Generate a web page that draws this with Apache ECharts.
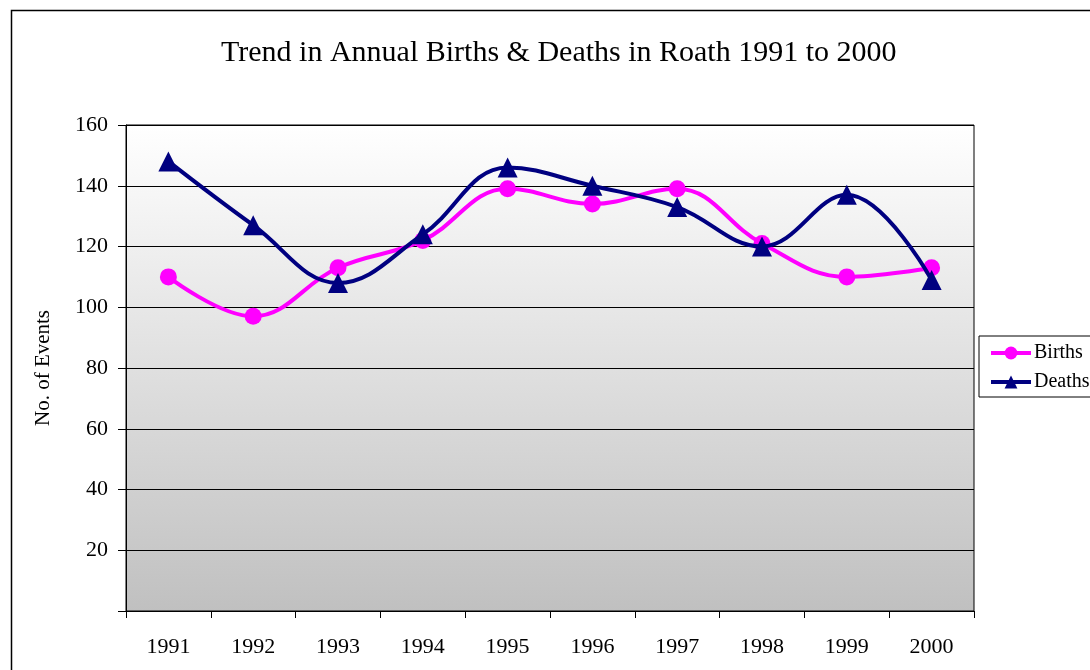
<!DOCTYPE html>
<html><head><meta charset="utf-8">
<script src="https://cdn.jsdelivr.net/npm/echarts@6/dist/echarts.min.js"></script>
<style>html,body{margin:0;padding:0;background:#fff}#c{width:1090px;height:670px}</style>
</head><body><div id="c"></div>
<script>
const years = ['1991','1992','1993','1994','1995','1996','1997','1998','1999','2000'];
const births = [110, 97, 113, 122, 139, 134, 139, 121, 110, 113];
const deaths = [148, 127, 108, 124, 146, 140, 133, 120, 137, 109];
const titleText = 'Trend in Annual Births & Deaths in Roath 1991 to 2000';
const yAxisName = 'No. of Events';

const font = 'Liberation Serif, Times New Roman, serif';
const chart = echarts.init(document.getElementById('c'));
chart.setOption({
  animation: false,
  backgroundColor: '#fff',
  textStyle: { fontFamily: font, color: '#000' },
  title: {
    text: titleText, left: 216, top: 33,
    textStyle: { fontFamily: font, fontSize: 30, fontWeight: 'normal', color: '#000' }
  },
  graphic: [{
    type: 'rect', z: 100, silent: true,
    shape: { x: 11.5, y: 10.5, width: 1200, height: 1000 },
    style: { fill: 'none', stroke: '#000', lineWidth: 1.5 }
  }],
  grid: {
    left: 126, top: 125, width: 848, height: 486,
    show: true, borderColor: '#000', borderWidth: 1,
    backgroundColor: new echarts.graphic.LinearGradient(0, 0, 0, 1, [
      { offset: 0, color: '#ffffff' }, { offset: 1, color: '#c0c0c0' }
    ])
  },
  legend: {
    orient: 'vertical', left: 979, top: 336,
    padding: [7, 60, 5, 10], itemGap: 9, itemWidth: 40, itemHeight: 16,
    borderColor: '#000', borderWidth: 1, backgroundColor: '#fff',
    lineStyle: { width: 4 },
    textStyle: { fontFamily: font, fontSize: 20, color: '#000', padding: [0, 0, 0, -2] },
    data: ['Births', 'Deaths']
  },
  xAxis: {
    type: 'category', data: years, boundaryGap: true,
    axisLine: { lineStyle: { color: '#000', width: 1 } },
    axisTick: { show: true, length: 7, lineStyle: { color: '#000' } },
    axisLabel: { fontFamily: font, fontSize: 22, color: '#000', margin: 25 },
    splitLine: { show: false }
  },
  yAxis: {
    type: 'value', min: 0, max: 160, interval: 20,
    name: yAxisName, nameLocation: 'middle', nameGap: 72, nameRotate: 90,
    nameTextStyle: { fontFamily: font, fontSize: 21, color: '#000' },
    axisLine: { show: true, lineStyle: { color: '#000', width: 1 } },
    axisTick: { show: true, length: 8, lineStyle: { color: '#000' } },
    axisLabel: { fontFamily: font, fontSize: 22, color: '#000', margin: 18,
      formatter: v => v === 0 ? '' : String(v) },
    splitLine: { show: true, lineStyle: { color: '#000', width: 1 } }
  },
  series: [
    {
      name: 'Births', type: 'line', data: births, smooth: 0.4,
      symbol: 'circle', symbolSize: 17,
      lineStyle: { color: '#ff00ff', width: 4 },
      itemStyle: { color: '#ff00ff' }, z: 3
    },
    {
      name: 'Deaths', type: 'line', data: deaths, smooth: 0.4,
      symbol: 'triangle', symbolSize: 20,
      lineStyle: { color: '#000080', width: 4 },
      itemStyle: { color: '#000080' }, z: 4
    }
  ]
});
</script></body></html>
